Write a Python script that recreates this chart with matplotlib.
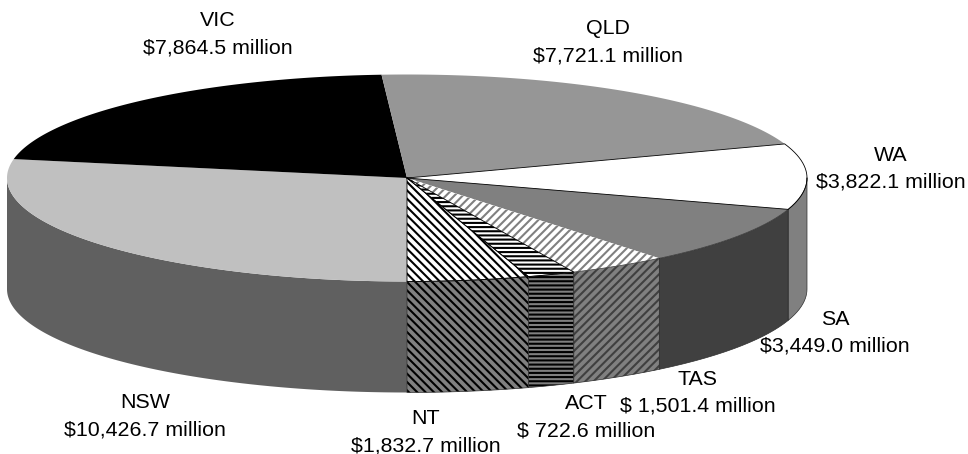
import matplotlib
matplotlib.use("Agg")
import matplotlib.pyplot as plt
import numpy as np

states = ["NSW", "VIC", "QLD", "WA", "SA", "TAS", "ACT", "NT"]
spend = [10426.7, 7864.5, 7721.1, 3822.1, 3449.0, 1501.4, 722.6, 1832.7]
amounts = ["$10,426.7 million", "$7,864.5 million", "$7,721.1 million", "$3,822.1 million",
           "$3,449.0 million", "$ 1,501.4 million", "$ 722.6 million", "$1,832.7 million"]

top_colors = ["#c0c0c0", "#000000", "#969696", "#ffffff", "#808080", "#ffffff", "#ffffff", "#ffffff"]
top_hatch_colors = [None, None, None, None, None, "#808080", "#000000", "#000000"]
side_colors = ["#606060", "#000000", "#4b4b4b", "#808080", "#404040", "#808080", "#808080", "#808080"]
side_hatch_colors = [None, None, None, None, None, "#404040", "#000000", "#000000"]
hatches = [None, None, None, None, None, "////", "----", "\\\\\\\\"]
label_xy = [(145, 416), (218, 34), (608, 42), (891, 169), (835, 333), (698, 393), (586, 417), (426, 432)]

cx, cy = 407, 178
a, b = 400, 103.5
depth = 111

plt.rcParams["hatch.linewidth"] = 1.5
plt.rcParams["font.family"] = ["Liberation Sans", "DejaVu Sans"]

fig = plt.figure(figsize=(9.68, 4.54), dpi=100)
ax = fig.add_axes([0, 0, 1, 1])
ax.set_xlim(0, 968)
ax.set_ylim(454, 0)
ax.axis("off")


def arc(t0, t1, dy=0):
    # angle in degrees, clockwise on screen starting from the front of the pie
    t = np.radians(np.linspace(t0, t1, 200))
    return cx - a * np.sin(t), cy + dy + b * np.cos(t)


edges = np.concatenate([[0], np.cumsum(spend)]) / np.sum(spend) * 360

# side wall
for i in range(len(spend)):
    for lo, hi in [(0, 90), (270, 360)]:
        t0, t1 = max(edges[i], lo), min(edges[i + 1], hi)
        if t1 <= t0:
            continue
        x0, y0 = arc(t0, t1)
        x1, y1 = arc(t1, t0, depth)
        ax.fill(np.r_[x0, x1], np.r_[y0, y1], facecolor=side_colors[i],
                edgecolor=side_hatch_colors[i] or side_colors[i],
                hatch=hatches[i], linewidth=0)
        if states[i] in ("WA", "SA", "TAS", "ACT", "NT"):
            ax.plot(np.r_[x0, x1, x0[0]], np.r_[y0, y1, y0[0]], color="#303030", lw=0.5)

# top face
for i in range(len(spend)):
    x, y = arc(edges[i], edges[i + 1])
    ax.fill(np.r_[cx, x], np.r_[cy, y], facecolor=top_colors[i],
            edgecolor=top_hatch_colors[i] or top_colors[i],
            hatch=hatches[i], linewidth=0)
    if states[i] in ("WA", "ACT", "NT"):
        ax.plot(np.r_[cx, x, cx], np.r_[cy, y, cy], color="black", lw=0.6)

# two separate lines per label, baselines 27 px apart
for (lx, ly), s, m in zip(label_xy, states, amounts):
    ax.text(lx, ly - 8, s, ha="center", va="baseline", fontsize=15.4, parse_math=False)
    ax.text(lx, ly + 19, m, ha="center", va="baseline", fontsize=15.4, parse_math=False)

fig.savefig("out.png", dpi=100)
